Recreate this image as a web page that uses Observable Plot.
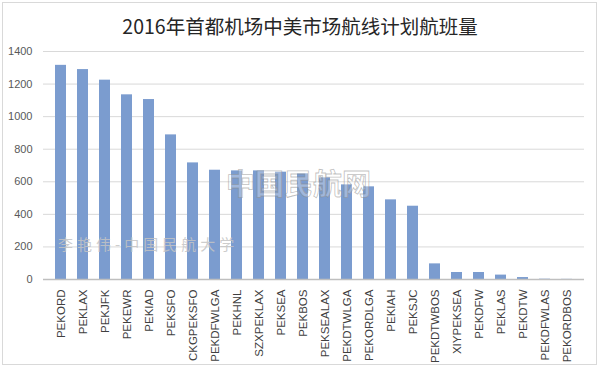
<!DOCTYPE html>
<html><head><meta charset="utf-8">
<script src="https://cdn.jsdelivr.net/npm/d3@7"></script>
<script src="https://cdn.jsdelivr.net/npm/@observablehq/plot@0.6"></script>
<style>body{margin:0;background:#fff}</style>
</head><body><div id="chart"></div>
<script>
const title = "2016年首都机场中美市场航线计划航班量";
const categories = ["PEKORD","PEKLAX","PEKJFK","PEKEWR","PEKIAD","PEKSFO","CKGPEKSFO","PEKDFWLGA","PEKHNL","SZXPEKLAX","PEKSEA","PEKBOS","PEKSEALAX","PEKDTWLGA","PEKORDLGA","PEKIAH","PEKSJC","PEKDTWBOS","XIYPEKSEA","PEKDFW","PEKLAS","PEKDTW","PEKDFWLAS","PEKORDBOS"];
const flights = [1315,1289,1224,1134,1105,888,716,671,667,667,659,649,624,581,569,489,450,96,43,43,27,12,2,1];
const yTicks = [0,200,400,600,800,1000,1200,1400];
const watermark1 = "李艳伟-中国民航大学";
const watermark2 = "中国民航网";

const data = categories.map((c,i)=>({route:c, flights:flights[i]}));

const chart = Plot.plot({
  width:600, height:368,
  marginTop:51, marginBottom:89, marginLeft:43, marginRight:16,
  style:{fontFamily:"'Liberation Sans', Arial, sans-serif", background:"#fff", overflow:"visible"},
  x:{domain:categories, paddingInner:0.48, paddingOuter:0.24, label:null},
  y:{domain:[0,1400], label:null},
  marks:[
    Plot.gridY(yTicks.slice(1), {stroke:"#d9d9d9", strokeOpacity:1}),
    Plot.barY(data, {x:"route", y:"flights", fill:"#7b9ccf"}),
    Plot.ruleY([0], {stroke:"#bfbfbf", strokeWidth:1.3}),
    Plot.axisY(yTicks, {tickSize:0, tickPadding:11, fontSize:11, fill:"#595959", label:null, tickFormat:d=>String(d)}),
    Plot.axisX({tickSize:0, tickPadding:10, tickRotate:-90, fontSize:11.5, fill:"#404040", label:null})
  ]
});

const svg = d3.select(chart);
svg.insert("rect", ":first-child")
  .attr("x",2.5).attr("y",2.5).attr("width",594).attr("height",362)
  .attr("fill","#fff").attr("stroke","#d9d9d9").attr("stroke-width",1);
svg.append("text")
  .attr("x",300).attr("y",34).attr("text-anchor","middle")
  .attr("font-family","'Noto Sans CJK SC', sans-serif").attr("font-size",19.5)
  .attr("fill","#262626").text(title);
svg.append("text")
  .attr("x",58).attr("y",250).attr("text-anchor","start")
  .attr("font-family","'Noto Sans CJK SC', sans-serif").attr("font-size",15)
  .attr("letter-spacing",4)
  .attr("fill","#c4c4c4").attr("fill-opacity",0.85).text(watermark1);
svg.append("text")
  .attr("x",226).attr("y",195).attr("text-anchor","start")
  .attr("font-family","'Noto Sans CJK SC', sans-serif").attr("font-size",29).attr("font-weight","bold")
  .attr("fill","#ffffff").attr("fill-opacity",0.3)
  .attr("stroke","#8a8a8a").attr("stroke-opacity",0.55).attr("stroke-width",0.8)
  .text(watermark2);

document.getElementById("chart").appendChild(chart);
</script>
</body></html>
